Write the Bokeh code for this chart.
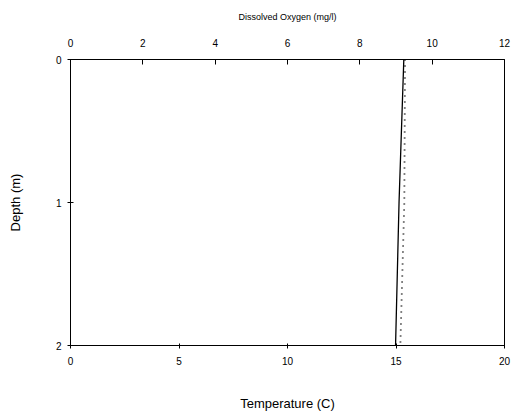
from bokeh.plotting import figure
from bokeh.models import Range1d, LinearAxis, FixedTicker
from bokeh.embed import file_html
from bokeh.resources import INLINE

depth = [0, 1, 2]
temperature = [15.36, 15.14, 14.98]
dissolved_oxygen = [9.25, 9.23, 9.12]
do_for_plot = [v * 20.0 / 12.0 for v in dissolved_oxygen]

FONT = "Liberation Sans"

p = figure(width=516, height=417, output_backend="svg", toolbar_location=None,
           x_range=Range1d(0, 20), y_range=Range1d(2, 0),
           min_border_left=70, min_border_right=12, min_border_top=59, min_border_bottom=72)
p.extra_x_ranges = {"do": Range1d(0, 12)}
p.background_fill_color = "white"
p.border_fill_color = "white"
p.outline_line_color = "black"
p.outline_line_width = 1
p.xgrid.visible = False
p.ygrid.visible = False

p.line(temperature, depth, line_color="black", line_width=1.3)
p.line(do_for_plot, depth, line_color="black", line_width=1.8, line_dash="1 5")

xa = p.xaxis[0]
xa.ticker = FixedTicker(ticks=[0, 5, 10, 15, 20])
xa.axis_label = "Temperature (C)"
xa.axis_label_text_font = FONT
xa.axis_label_text_font_style = "normal"
xa.axis_label_text_font_size = "13px"
xa.axis_label_text_color = "black"
xa.axis_label_standoff = 28
xa.major_label_text_font = FONT
xa.major_label_text_font_size = "10px"
xa.major_label_text_color = "black"
xa.major_label_standoff = 8
xa.major_tick_in = 2
xa.major_tick_out = 3
xa.minor_tick_line_color = None
xa.axis_line_color = "black"

top = LinearAxis(x_range_name="do", ticker=FixedTicker(ticks=[0, 2, 4, 6, 8, 10, 12]))
top.axis_label = "Dissolved Oxygen (mg/l)"
top.axis_label_text_font = FONT
top.axis_label_text_font_style = "normal"
top.axis_label_text_font_size = "9px"
top.axis_label_text_color = "black"
top.axis_label_standoff = 14
top.major_label_text_font = FONT
top.major_label_text_font_size = "10px"
top.major_label_text_color = "black"
top.major_label_standoff = 13
top.major_tick_in = 5
top.major_tick_out = 0
top.minor_tick_line_color = None
p.add_layout(top, "above")

ya = p.yaxis[0]
ya.ticker = FixedTicker(ticks=[0, 1, 2])
ya.axis_label = "Depth (m)"
ya.axis_label_text_font = FONT
ya.axis_label_text_font_style = "normal"
ya.axis_label_text_font_size = "13px"
ya.axis_label_text_color = "black"
ya.axis_label_standoff = 30
ya.major_label_text_font = FONT
ya.major_label_text_font_size = "10px"
ya.major_label_text_color = "black"
ya.major_label_standoff = 6
ya.major_label_orientation = 0
ya.major_tick_in = 3
ya.major_tick_out = 3
ya.minor_tick_line_color = None

open("out.html", "w").write(file_html(p, INLINE))
